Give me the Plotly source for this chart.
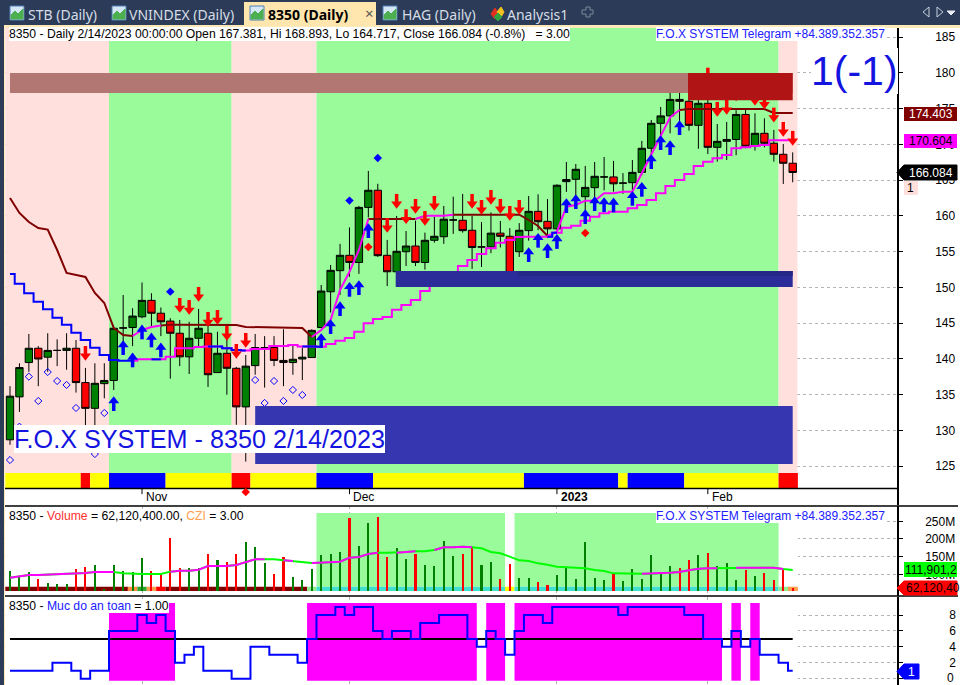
import plotly.graph_objects as go

# bars are plain indices, 0 = first visible session, 83 = 2/14/2023
bars = list(range(84))

opens = [128.7, 134.7, 139.5, 141.5, 140.25, 141.2, 141.2, 141.5, 136.7, 133.1, 136.55, 137.0, 144.34, 144.4, 145.9, 148.2, 146.4, 145.3, 143.6, 140.3, 142.9, 143.6, 138.1, 140.8, 138.7, 133.3, 139.07, 141.6, 141.6, 139.8, 139.5, 140.0,
         140.2, 144.4, 149.4, 152.35, 154.5, 153.5, 161.2, 163.6, 154.5, 152.2, 155.0, 155.8, 153.5, 156.6, 157.1, 159.44, 159.4, 158.0, 155.67, 155.67, 157.6, 157.16, 155.0, 157.95, 160.65, 159.25, 158.2, 164.8, 165.13, 162.7, 163.96, 165.46, 165.46, 164.6,
         164.66, 166.1, 169.47, 172.96, 174.0, 176.3, 176.04, 172.68, 175.76, 169.6, 170.44, 170.7, 174.2, 169.75, 171.56, 170.17, 168.63, 167.381]
highs = [136.2, 139.4, 143.5, 141.8, 143.6, 142.75, 143.6, 142.66, 138.75, 139.4, 139.4, 144.4, 148.95, 147.1, 150.7, 149.2, 147.2, 145.7, 145.45, 145.2, 147.0, 144.75, 143.8, 142.9, 138.9, 140.55, 143.5, 143.2, 143.2, 144.15, 142.05, 141.6,
         144.15, 150.35, 153.15, 156.1, 158.4, 161.4, 166.3, 164.5, 156.65, 160.0, 157.9, 159.35, 157.67, 159.9, 161.4, 162.7, 163.08, 160.0, 159.16, 160.5, 159.3, 158.3, 159.0, 162.8, 163.03, 162.38, 164.43, 167.55, 167.27, 167.0, 167.55, 168.25, 167.7, 166.0,
         167.83, 170.5, 173.43, 175.25, 178.46, 179.72, 176.3, 176.2, 177.6, 172.87, 173.15, 174.8, 175.06, 174.36, 173.66, 172.03, 170.07, 168.893]
lows = [128.0, 132.6, 138.2, 136.2, 138.2, 139.0, 138.5, 135.3, 129.6, 130.5, 134.5, 135.67, 141.7, 141.8, 145.7, 144.5, 143.2, 137.25, 139.0, 137.9, 141.7, 136.1, 138.1, 135.0, 130.8, 125.65, 137.8, 136.0, 139.0, 136.2, 137.8, 137.05,
        140.2, 144.4, 146.5, 148.95, 151.5, 151.9, 159.8, 154.27, 150.2, 152.0, 153.0, 153.0, 152.5, 156.27, 156.1, 157.5, 157.67, 152.6, 152.87, 154.8, 155.6, 151.8, 154.27, 156.55, 158.0, 156.9, 158.0, 163.36, 162.9, 160.84, 162.5, 163.6, 163.4, 163.1,
        163.2, 165.7, 167.83, 171.1, 171.56, 172.96, 171.94, 169.4, 168.67, 167.6, 167.83, 168.5, 169.47, 169.14, 169.6, 167.6, 164.48, 164.717]
closes = [134.8, 138.8, 141.5, 140.0, 141.2, 141.2, 141.5, 136.7, 133.1, 136.6, 137.0, 144.3, 144.34, 146.0, 148.2, 146.4, 145.2, 143.6, 140.3, 142.9, 144.3, 137.8, 140.8, 138.7, 133.3, 139.0, 141.6, 141.6, 139.8, 139.5, 139.96, 140.25,
          144.0, 149.5, 152.4, 154.5, 153.5, 161.2, 163.6, 154.45, 152.2, 155.06, 155.8, 153.5, 156.6, 157.16, 159.55, 159.44, 157.95, 155.6, 155.67, 157.6, 157.16, 152.08, 158.0, 160.65, 159.2, 158.2, 164.3, 165.1, 166.53, 164.0, 165.55, 165.46, 164.5, 164.6,
          166.1, 169.47, 172.96, 174.0, 176.3, 176.04, 172.68, 175.76, 169.6, 170.44, 170.7, 174.2, 169.75, 171.56, 170.17, 168.63, 167.37, 166.084]

# trailing lines, one value per bar
upper_line = [162.52, 160.42, 159.16, 158.32, 158.1, 155.24, 152.03, 151.75, 151.47, 149.23, 147.83, 144.34, 143.36, 143.22, 144.06, 144.48, 144.68, 144.8, 144.8, 144.8, 144.8, 144.8, 144.8, 144.8, 144.76, 144.48, 144.44, 144.44, 144.44, 144.34, 144.34, 144.34,
              143.08, 144.06, 145.46, 149.65, 152.2, 155.24, 159.58, 159.58, 159.58, 159.58, 159.58, 159.58, 160.04, 160.04, 160.04, 160.18, 160.18, 160.18, 160.18, 160.18, 160.18, 160.18, 160.18, 159.44, 158.6, 157.2, 157.8, 161.3, 161.54, 162.14, 162.14, 163.18, 163.18, 163.4,
              163.4, 165.97, 168.53, 171.19, 173.8, 174.83, 174.95, 174.95, 174.95, 174.95, 174.95, 174.95, 174.95, 174.95, 174.95, 174.4, 174.4, 174.403]
lower_line = [151.9, 150.54, 149.18, 148.02, 146.95, 145.78, 144.8, 143.68, 142.66, 141.58, 140.56, 139.86, 139.77, 139.77, 139.95, 139.95, 139.95, 140.33, 141.5, 141.5, 141.68, 141.73, 141.73, 141.5, 141.26, 141.17, 141.4, 141.4, 141.82, 141.82, 141.96, 141.73,
              141.73, 141.72, 142.1, 142.56, 142.94, 143.82, 145.0, 145.6, 145.87, 146.9, 147.55, 148.25, 149.5, 150.35, 151.05, 151.75, 153.0, 153.85, 154.7, 155.5, 156.27, 156.64, 157.06, 157.1, 157.1, 157.1, 157.66, 158.36, 158.64, 159.34, 159.9, 160.38, 160.6, 160.6,
              161.08, 161.54, 162.24, 163.18, 164.2, 165.04, 165.87, 167.0, 167.6, 168.07, 168.53, 169.47, 169.6, 169.8, 169.93, 170.6, 170.6, 170.604]
upper_rising = [(13, 16), (32, 38), (43, 47), (57, 71)]
lower_blue = [(0, 13), (15, 16), (21, 25), (31, 33), (57, 58)]

# signals
buy_bars = [11, 12, 13, 14, 15, 16, 33, 34, 35, 36, 37, 38, 55, 56, 57, 58, 59, 60, 61, 62, 63, 64, 66, 67, 68, 69, 70, 71]
buy_prices = [134.13, 141.96, 140.24, 144.15, 143.03, 141.63, 142.94, 144.9, 147.41, 150.11, 150.35, 158.32, 154.97, 156.97, 155.52, 156.8, 161.82, 162.38, 160.28, 162.1, 161.96, 161.91, 162.84, 164.1, 167.97, 170.63, 169.93, 172.73]
sell_bars = [8, 18, 19, 20, 21, 22, 23, 24, 25, 40, 41, 42, 43, 44, 45, 49, 50, 51, 52, 53, 54, 74, 75, 76, 77, 79, 80, 81, 82, 83]
sell_prices = [140.42, 147.13, 146.85, 148.67, 145.17, 145.45, 143.22, 140.7, 142.24, 158.32, 161.68, 159.54, 160.98, 159.3, 161.4, 161.68, 160.84, 162.24, 160.98, 160.0, 160.84, 179.34, 174.55, 174.83, 176.7, 176.1, 175.6, 173.75, 171.75, 170.5]
open_diamond_bars = [0, 1, 2, 3, 4, 5, 6, 7, 9, 10, 26, 27, 28, 29, 30, 31]
open_diamond_prices = [125.87, 130.54, 137.53, 134.13, 138.18, 136.92, 136.37, 133.15, 126.71, 132.45, 137.06, 133.85, 136.92, 134.13, 135.67, 134.97]
blue_dot_bars = [17, 36, 39]
blue_dot_prices = [149.42, 162.15, 168.11]
red_dot_bars = [25, 38, 61]
red_dot_prices = [121.4, 155.67, 157.62]

# zones: first bar, last bar, low, high, colour
zone_x0 = [0, 71.9, 26, 40.9, 53.9]
zone_x1 = [83, 83, 83, 83, 83]
zone_lo = [177.2, 176.2, 125.3, 150.07, 151.6]
zone_hi = [180, 180, 133.43, 152.3, 152.3]
zone_colors = ["#B27773", "#B11414", "#3636B0", "#2B2B99", "#262688"]

# background regime bands
band_edges = [-0.5, 10.5, 23.5, 32.5, 81.5, 83.5]
band_colors = ["#FFE0DC", "#99FB99", "#FFE0DC", "#99FB99", "#FFE0DC"]
strip_edges = [-0.5, 7.5, 8.5, 10.5, 16.5, 23.5, 25.5, 32.5, 38.5, 54.5, 64.5, 65.5, 71.5, 81.5, 83.55]
strip_colors = ["#FFFF00", "#FF0000", "#FFFF00", "#0000FF", "#FFFF00", "#FF0000", "#FFFF00", "#0000FF", "#FFFF00", "#0000FF", "#FFFF00", "#0000FF", "#FFFF00", "#FF0000"]

# volume pane, in millions
volume = [109.3, 95.2, 106.5, 86.7, 75.4, 72.6, 72.6, 115, 120.7, 126.3, 58.4, 126.3, 109.3, 106.5, 146.1, 109.3, 98, 202.7, 117.8, 117.8, 117.8, 157.4, 140.5, 134.8, 157.4, 191.4, 177.3, 132, 100.9, 149, 92.4, 83.9,
          115, 154.6, 157.4, 163.1, 259.3, 180.1, 245.2, 262.1, 149, 174.4, 143.3, 157.4, 126.3, 123.5, 194.2, 151.8, 157.4, 174.4, 126.3, 134.8, 86.7, 129.2, 89.5, 89.5, 78.2, 69.7, 98, 117.8, 86.7, 191.4, 89.5, 83.9, 100.9, 81.1,
          115, 86.7, 154.6, 100.9, 123.5, 117.8, 140.5, 154.6, 160.3, 123.5, 132, 83.9, 112.2, 95.2, 103.7, 83.9, 112.2, 62.12]
volume_colors = ["#008000" if c >= o else "#FF0000" for o, c in zip(opens, closes)]
volume_ma = [90.5, 93.3, 98, 98, 99, 99.9, 101.8, 102.7, 103.7, 106.5, 106.5, 106.5, 102.7, 100.9, 100.9, 100.9, 100.9, 107.5, 110.3, 110.3, 113.1, 123.5, 123.5, 123.5, 126.3, 134.8, 142.4, 142.4, 142.4, 139.5, 137.6, 135.8,
             132, 132.9, 133.9, 135.8, 147.1, 149, 157.4, 161.2, 161.2, 161.2, 163.1, 165, 165, 168.8, 176.3, 176.3, 178.2, 176.3, 173.5, 163.1, 159.3, 149.9, 139.5, 137.6, 131, 127.3, 121.6, 119.7, 118.8, 116.9, 112.2, 109.3, 102.7, 101.8,
             101.8, 101.8, 101.8, 103.7, 104.6, 106.5, 111.2, 115.9, 116.9, 116.9, 118.8, 118.8, 118.8, 118.8, 118.8, 118.8, 115, 111.9]
ma_rising = [(0, 2), (3, 9), (10, 11), (17, 27), (29, 30), (32, 39), (41, 43), (45, 49), (67, 75), (77, 78), (79, 80), (81, 82)]
vol_green_bands = [(32.5, 52.5), (53.5, 81.5)]
vol_strip_edges = [-0.5, 12.5, 13.5, 14.5, 15.5, 16.5, 31.5, 32.5, 52.5, 53.5, 81.5, 82.5, 83.55]
vol_strip_colors = ["#800000", "#FF8C40", "#2FA82F", "#FFA050", "#FF0000", "#800000", "#90EE90", "#40E0D0", "#FFFF00", "#40E0D0", "#90EE90", "#FFA050"]

# safety score pane
safety = [1, 1, 1, 1, 1, 2, 2, 1, 0, 1, 1, 6, 6, 6, 8, 7, 8, 6, 2, 3, 4, 1, 1, 1, 0, 0, 4, 4, 3, 3, 3, 2,
          5, 8, 8, 9, 8, 9, 9, 6, 5, 6, 6, 5, 7, 7, 8, 8, 8, 5, 4, 6, 5, 3, 6, 8, 8, 7, 9, 9, 9, 9, 9, 9, 9, 8,
          9, 9, 9, 9, 9, 9, 8, 8, 5, 5, 4, 6, 4, 5, 3, 3, 2, 1]
safety_bands = [(10.5, 17.5), (31.5, 49.5), (50.5, 52.5), (53.5, 75.5), (76.5, 77.5), (78.5, 79.5)]

price_ticks = [125, 130, 135, 140, 145, 150, 155, 160, 165, 170, 175, 180, 185]
volume_ticks = [100, 150, 200, 250]
volume_tick_labels = ["100M", "150M", "200M", "250M"]
safety_ticks = [0, 2, 4, 6, 8]
date_bars = [14, 36, 58, 74]
date_labels = ["Nov", "Dec", "<b>2023</b>", "Feb"]
tab_labels = ["STB (Daily)", "VNINDEX (Daily)", "<b>8350 (Daily)</b>", "HAG (Daily)", "Analysis1"]
tab_text_x = [28, 129, 268, 402, 507]
tab_icon_x = [10, 112, 250, 383]

FONT = "Liberation Sans"


def fx(x):
    return x / 960


def fy(y):
    return 1 - y / 685


def only(values, ranges):
    # keep values inside the given bar ranges, None elsewhere
    return [v if any(a <= i <= b for a, b in ranges) else None for i, v in enumerate(values)]


shapes = []


def data_rect(x0, x1, y0, y1, color, pane=""):
    shapes.append(dict(type="rect", xref="x" + pane, yref="y" + pane, x0=x0, x1=x1, y0=y0, y1=y1,
                       fillcolor=color, line_width=0, layer="between"))


def paper_rect(x0, y0, x1, y1, color, line="rgba(0,0,0,0)"):
    shapes.append(dict(type="rect", xref="paper", yref="paper", x0=fx(x0), x1=fx(x1), y0=fy(y0), y1=fy(y1),
                       fillcolor=color, line=dict(color=line, width=1 if line != "rgba(0,0,0,0)" else 0), layer="above"))


def paper_line(x0, y0, x1, y1, color="#000000", width=1.5):
    shapes.append(dict(type="line", xref="paper", yref="paper", x0=fx(x0), x1=fx(x1), y0=fy(y0), y1=fy(y1),
                       line=dict(color=color, width=width), layer="above"))


def paper_poly(points, fill, line=None):
    path = "M " + " L ".join(f"{fx(x):.5f},{fy(y):.5f}" for x, y in points) + " Z"
    shapes.append(dict(type="path", xref="paper", yref="paper", path=path, fillcolor=fill,
                       line=dict(color=line or fill, width=1), layer="above"))


# main pane background
for k, color in enumerate(band_colors):
    data_rect(band_edges[k], band_edges[k + 1], 124.06, 186.3, color)
for k, color in enumerate(strip_colors):
    data_rect(strip_edges[k], strip_edges[k + 1], 121.96, 124.06, color)
shapes.append(dict(type="line", xref="x", yref="y", x0=-0.53, x1=94.06, y0=121.9, y1=121.9,
                   line=dict(color="#000000", width=1.5), layer="between"))
for b in date_bars:
    shapes.append(dict(type="line", xref="x", yref="y", x0=b, x1=b, y0=121.9, y1=121.1,
                       line=dict(color="#000000", width=1), layer="between"))

# volume pane background
data_rect(-0.5, 83.55, 52.6, 273.5, "#FFFFFF", "2")
for a, b in vol_green_bands:
    data_rect(a, b, 64.9, 273.5, "#99FB99", "2")
for k, color in enumerate(vol_strip_colors):
    data_rect(vol_strip_edges[k], vol_strip_edges[k + 1], 52.6, 64.9, color, "2")

# safety pane background
data_rect(-0.5, 83.55, -0.25, 9.51, "#FFFFFF", "3")
for a, b in safety_bands:
    data_rect(a, b, -0.25, 9.51, "#FF00FF", "3")

fig = go.Figure()

# lines sit under zones, zones under candles, same as the original stacking
fig.add_trace(go.Scatter(x=bars, y=only(upper_line, [(0, 13), (16, 32), (38, 43), (47, 57), (71, 83)]), mode="lines",
                         line=dict(color="#800000", width=2)))
fig.add_trace(go.Scatter(x=bars, y=only(upper_line, upper_rising), mode="lines",
                         line=dict(color="#FF00FF", width=2)))
fig.add_trace(go.Scatter(x=bars, y=only(lower_line, [(13, 83)]), mode="lines",
                         line=dict(color="#FF00FF", width=2, shape="hvh")))
fig.add_trace(go.Scatter(x=bars, y=only(lower_line, lower_blue), mode="lines",
                         line=dict(color="#0000FF", width=2, shape="hvh")))

fig.add_trace(go.Scatter(x=buy_bars, y=buy_prices, mode="markers",
                         marker=dict(symbol="triangle-up", size=9.5, color="#0000FF"),
                         error_y=dict(type="data", symmetric=False, array=[0] * len(buy_bars), arrayminus=[1.4] * len(buy_bars),
                                      color="#0000FF", thickness=3.5, width=0)))
fig.add_trace(go.Scatter(x=sell_bars, y=sell_prices, mode="markers",
                         marker=dict(symbol="triangle-down", size=9.5, color="#FF0000"),
                         error_y=dict(type="data", symmetric=False, array=[1.4] * len(sell_bars), arrayminus=[0] * len(sell_bars),
                                      color="#FF0000", thickness=3.5, width=0)))
fig.add_trace(go.Scatter(x=open_diamond_bars, y=open_diamond_prices, mode="markers",
                         marker=dict(symbol="diamond-open", size=5.5, color="#0000FF", line=dict(width=1, color="#0000FF"))))
fig.add_trace(go.Scatter(x=blue_dot_bars, y=blue_dot_prices, mode="markers",
                         marker=dict(symbol="diamond", size=6.5, color="#0000FF")))
fig.add_trace(go.Scatter(x=red_dot_bars, y=red_dot_prices, mode="markers", cliponaxis=False,
                         marker=dict(symbol="diamond", size=6.5, color="#FF0000")))

for k in range(len(zone_colors)):
    fig.add_trace(go.Scatter(x=[zone_x0[k], zone_x1[k], zone_x1[k], zone_x0[k], zone_x0[k]],
                             y=[zone_lo[k], zone_lo[k], zone_hi[k], zone_hi[k], zone_lo[k]],
                             mode="lines", fill="toself", fillcolor=zone_colors[k], line=dict(width=0)))

fig.add_trace(go.Candlestick(x=bars, open=opens, high=highs, low=lows, close=closes, whiskerwidth=0,
                             increasing=dict(fillcolor="#008000", line=dict(color="#000000", width=1)),
                             decreasing=dict(fillcolor="#FF0000", line=dict(color="#000000", width=1))))

# volume pane
fig.add_trace(go.Bar(x=bars, y=[v - 52.6 for v in volume], base=52.6, width=0.22, marker=dict(color=volume_colors, line_width=0),
                     xaxis="x2", yaxis="y2"))
fig.add_trace(go.Scatter(x=bars, y=volume_ma, mode="lines", line=dict(color="#00FF00", width=2), xaxis="x2", yaxis="y2"))
fig.add_trace(go.Scatter(x=bars, y=only(volume_ma, ma_rising), mode="lines", line=dict(color="#FF00FF", width=2), xaxis="x2", yaxis="y2"))

# safety pane
fig.add_trace(go.Scatter(x=[0, 83], y=[5, 5], mode="lines", line=dict(color="#000000", width=2), xaxis="x3", yaxis="y3"))
fig.add_trace(go.Scatter(x=bars, y=safety, mode="lines", line=dict(color="#0000FF", width=2, shape="hvh"), xaxis="x3", yaxis="y3"))

# window chrome
paper_rect(0, 0, 960, 26, "#2C3C58")
paper_rect(0, 0, 4, 685, "#2C3C58")
paper_rect(4, 25, 960, 28, "#FFE9B8")
paper_rect(4, 25, 5, 685, "#FFE9B8")
paper_rect(244, 2, 376, 26, "#FFE6AE")
for x in tab_icon_x:
    paper_rect(x, 6, x + 14, 20, "#D5E6F7", "#4F7FB5")
    paper_poly([(x + 1, 19), (x + 1, 15), (x + 5, 11), (x + 8, 14), (x + 13, 9), (x + 13, 19)], "#4CAF50")
paper_poly([(491, 14), (495, 8), (499, 14), (495, 19)], "#E03020")
paper_poly([(497, 12), (501, 7), (504, 12), (501, 17)], "#F2C020")
paper_poly([(494, 17), (498, 13), (502, 17), (498, 21)], "#30A040")
paper_poly([(923, 12), (929, 7), (929, 17)], "#2C3C58", "#C8D0DC")
paper_poly([(943, 12), (937, 7), (937, 17)], "#2C3C58", "#C8D0DC")
paper_poly([(947, 11), (955, 11), (951, 15)], "#E8ECF2")
paper_poly([(582, 10), (586, 10), (586, 7), (590, 7), (590, 10), (593, 10), (593, 14), (590, 14), (590, 17), (586, 17), (586, 14), (582, 14)], "#2C3C58", "#7C8798")
paper_line(5, 506, 958, 506)
paper_line(5, 596, 958, 596)

# price tags on the axis
paper_rect(904, 107, 957, 121, "#800000")
paper_rect(904, 134, 957, 148, "#FF00FF")
paper_poly([(897, 172.5), (904, 165), (957, 165), (957, 180), (904, 180)], "#000000")
paper_rect(904, 181, 918, 195, "#FFE0DC")
paper_rect(904, 562, 957, 577, "#00FF00")
paper_poly([(897, 588), (904, 581), (957, 581), (957, 595), (904, 595)], "#FF0000")
paper_poly([(897, 671.5), (904, 664), (919, 664), (919, 679), (904, 679)], "#0000FF")

fig.update_layout(shapes=shapes)


def note(text, x, y, size=12, color="#000000", bg=None, anchor="left", family=FONT):
    fig.add_annotation(text=text, xref="paper", yref="paper", x=fx(x), y=fy(y), xanchor=anchor, yanchor="middle",
                       showarrow=False, font=dict(family=family, size=size, color=color),
                       bgcolor=bg if bg else "rgba(0,0,0,0)", borderpad=0, borderwidth=0)


for label, x in zip(tab_labels, tab_text_x):
    is_active = label.startswith("<b>")
    note(label, x, 14, size=14, color="#000000" if is_active else "#D6DCE6", family="Noto Sans")
note("×", 365, 13, size=15, color="#555555", family="Noto Sans")

note("8350 - Daily 2/14/2023 00:00:00 Open 167.381, Hi 168.893, Lo 164.717, Close 166.084 (-0.8%)&nbsp;&nbsp; = 3.00", 9, 34.5, size=12.2, bg="#FFFFFF")
note("F.O.X SYSTEM Telegram +84.389.352.357", 656, 34.5, color="#2020FF", bg="#FFFFFF")
note("F.O.X SYSTEM Telegram +84.389.352.357", 656, 515.5, color="#2020FF", bg="#FFFFFF")
note("1(-1)", 811, 71, size=41, color="#1414E0", bg="#FFFFFF")
note("F.O.X SYSTEM - 8350 2/14/2023", 14, 439, size=25.2, color="#1414E0", bg="#FFFFFF")
note('8350 - <span style="color:#FF3030">Volume</span> = 62,120,400.00, <span style="color:#FFA050">CZI</span> = 3.00', 9, 515.5, size=12.2, bg="#FFFFFF")
note('8350 - <span style="color:#2020FF">Muc do an toan</span> = 1.00', 9, 606, size=12.2, bg="#FFFFFF")

for b, label in zip(date_bars, date_labels):
    fig.add_annotation(text=label, xref="x", yref="paper", x=b, y=fy(497), xanchor="left", yanchor="middle", xshift=2,
                       showarrow=False, font=dict(family=FONT, size=12, color="#000000"))

note("174.403", 953, 114, size=12, color="#FFFFFF", anchor="right")
note("170.604", 953, 141, size=12, color="#000000", anchor="right")
note("166.084", 953, 172.5, size=12, color="#FFFFFF", anchor="right")
note("1", 907, 188, size=12, color="#000000")
note("111,901,2", 905, 569.5, size=12, color="#000000")
note("62,120,40", 906, 588, size=12, color="#000000")
note("1", 908, 671.5, size=12, color="#FFFFFF")
# plotly drops the lowest tick label this close to the page edge
note("0", 947, 678, size=12, color="#000000")

grid = dict(showgrid=True, gridcolor="#B4B4B4", griddash="dot", gridwidth=1, side="right", showline=True, linecolor="#000000", linewidth=1.5,
            ticks="outside", ticklen=4, tickcolor="#000000", tickfont=dict(family=FONT, size=12, color="#000000"), zeroline=False)
x_common = dict(domain=[fx(5), fx(897)], range=[-0.53, 94.06], showline=False, zeroline=False, ticks="", showticklabels=False,
                tickmode="array", tickvals=date_bars)

fig.update_layout(
    width=960, height=685, margin=dict(l=0, r=0, t=0, b=0), paper_bgcolor="#FFFFFF", plot_bgcolor="#FFFFFF",
    showlegend=False, bargap=0, boxgap=0.22, boxgroupgap=0, dragmode=False,
    xaxis=dict(**x_common, anchor="y", showgrid=False, rangeslider=dict(visible=False)),
    xaxis2=dict(**x_common, anchor="y2", matches="x", showgrid=True, gridcolor="#B4B4B4", griddash="dot"),
    xaxis3=dict(**x_common, anchor="y3", matches="x", showgrid=True, gridcolor="#B4B4B4", griddash="dot"),
    yaxis=dict(**grid, domain=[fy(505), fy(28)], range=[119.58, 186.29], anchor="x", tickvals=price_ticks, ticklabelstandoff=30),
    yaxis2=dict(**grid, domain=[fy(596), fy(506)], range=[38.6, 293.3], anchor="x2", tickvals=volume_ticks, ticktext=volume_tick_labels, ticklabelstandoff=20),
    yaxis3=dict(**grid, domain=[0, fy(597)], range=[-0.79, 10.26], anchor="x3", tickvals=safety_ticks, ticklabelstandoff=44),
)

fig.write_html("out.html", config=dict(displayModeBar=False), post_script="document.body.style.margin='0';")
